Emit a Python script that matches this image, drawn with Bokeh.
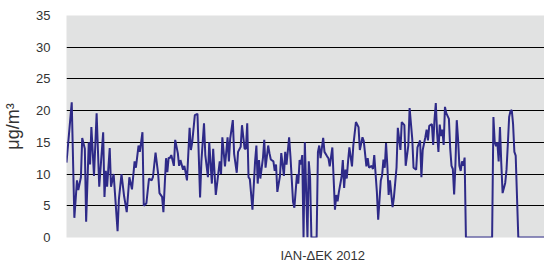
from bokeh.plotting import figure
from bokeh.models import Range1d, Title, FixedTicker
from bokeh.embed import file_html
from bokeh.resources import INLINE

# Day of year 2012 and concentration (μg/m³)
days = [1, 5, 7, 9, 10, 12, 13, 15, 16, 18, 19, 20, 22, 24, 26, 29, 30, 31, 32, 34, 35, 37, 38, 40, 41, 43, 45, 47, 49, 51,
        53, 54, 56, 57, 59, 60, 62, 64, 66, 67, 69, 71, 72, 74, 75, 77, 78, 79, 80, 81, 83, 84, 86, 87, 88, 90, 91, 92, 93, 95,
        96, 97, 99, 101, 103, 104, 106, 107, 109, 110, 112, 113, 115, 118, 119, 120, 122, 124, 125, 126, 128, 129, 131, 132, 134, 135, 137, 138, 139, 140,
        141, 143, 145, 146, 147, 148, 149, 151, 152, 153, 155, 156, 157, 159, 160, 161, 162, 164, 165, 167, 168, 169, 171, 172, 174, 175, 177, 178, 179, 180,
        181, 182, 183, 185, 186, 187, 188, 192, 193, 194, 195, 197, 198, 200, 201, 202, 204, 205, 206, 207, 208, 209, 211, 212, 213, 214, 215, 216, 217, 219,
        220, 222, 224, 225, 227, 228, 230, 231, 232, 234, 235, 236, 238, 239, 241, 242, 243, 244, 245, 246, 247, 248, 250, 251, 253, 254, 256, 257, 259, 260,
        262, 263, 265, 266, 268, 269, 271, 272, 273, 275, 276, 277, 278, 280, 281, 282, 283, 284, 285, 286, 287, 288, 289, 290, 291, 293, 294, 295, 296, 297,
        298, 299, 300, 301, 302, 303, 304, 305, 306, 326, 327, 328, 329, 330, 331, 332, 333, 334, 336, 337, 338, 339, 340, 341, 342, 343, 344, 346, 366]
pm = [11.8, 21.3, 3.1, 9.0, 7.5, 9.5, 15.7, 14.0, 2.5, 15.0, 11.5, 17.4, 9.7, 19.6, 8.0, 16.6, 6.4, 10.5, 8.0, 14.1, 8.0, 10.0, 7.0, 1.0, 6.0, 10.0, 6.5, 4.0, 9.5, 7.6,
      12.0, 11.0, 14.5, 13.5, 16.6, 5.0, 5.4, 9.3, 9.0, 9.5, 13.4, 10.0, 7.0, 6.4, 4.0, 12.5, 10.3, 12.6, 12.5, 13.0, 11.3, 15.4, 13.3, 11.3, 12.2, 10.7, 11.3, 10.2, 9.0, 17.3,
      13.8, 15.0, 19.3, 19.5, 6.3, 12.0, 18.0, 13.0, 9.5, 15.0, 8.5, 14.0, 6.7, 12.0, 10.0, 15.8, 11.2, 15.8, 12.0, 15.6, 18.5, 13.2, 10.2, 13.5, 14.3, 17.7, 14.0, 14.0, 18.0, 9.5,
      9.2, 4.4, 12.0, 14.5, 8.5, 12.2, 9.3, 12.5, 15.4, 11.0, 14.5, 13.3, 12.3, 12.0, 10.5, 11.5, 7.2, 9.7, 13.3, 9.7, 13.5, 11.5, 15.8, 12.8, 5.6, 4.7, 10.0, 8.5, 12.2, 11.5,
      13.0, 0, 15.0, 0, 12.0, 9.5, 0, 0, 13.5, 14.5, 12.5, 15.7, 13.5, 12.8, 12.5, 11.2, 14.2, 9.2, 4.4, 6.7, 5.7, 7.2, 9.5, 12.2, 7.8, 10.7, 9.3, 12.0, 14.2, 11.2,
      14.5, 18.2, 17.4, 13.8, 15.8, 15.2, 11.2, 12.5, 11.0, 11.3, 10.8, 13.0, 7.2, 2.8, 9.0, 9.8, 12.3, 11.0, 14.9, 11.3, 6.7, 9.0, 4.8, 6.3, 11.0, 17.3, 13.8, 18.2, 17.7, 11.3,
      14.5, 20.4, 15.6, 11.0, 10.7, 14.2, 15.3, 9.5, 13.8, 15.8, 17.0, 15.3, 17.6, 17.9, 14.6, 18.6, 21.2, 16.4, 13.5, 17.8, 16.0, 17.0, 14.6, 20.6, 19.6, 18.7, 14.0, 11.3, 10.8, 6.8,
      11.6, 18.5, 15.5, 11.3, 10.5, 12.0, 11.3, 12.6, 0, 0, 19.0, 15.0, 14.4, 15.0, 12.0, 17.4, 11.7, 7.0, 8.6, 10.7, 14.7, 19.0, 19.9, 20.1, 17.9, 13.5, 12.9, 0, 0]

y_ticks = [0, 5, 10, 15, 20, 25, 30, 35]
x_title = "ΙΑΝ-ΔΕΚ 2012"
y_title = "μg/m³"

p = figure(width=544, height=270, output_backend="svg", toolbar_location=None,
           x_range=Range1d(1, 366), y_range=Range1d(0, 35),
           min_border_left=66, min_border_right=0, min_border_top=15, min_border_bottom=2)
p.background_fill_color = "#e1e2e2"
p.border_fill_color = "white"
p.outline_line_color = None

p.line(days, pm, line_color="#2e2a88", line_width=2)

p.xgrid.grid_line_color = None
p.ygrid.grid_line_color = "black"
p.ygrid.grid_line_width = 1
p.ygrid.ticker = FixedTicker(ticks=y_ticks)

p.yaxis.ticker = FixedTicker(ticks=y_ticks)
p.yaxis.axis_line_color = None
p.yaxis.major_tick_line_color = None
p.yaxis.minor_tick_line_color = None
p.yaxis.major_label_standoff = 10
p.yaxis.major_label_text_font = "Liberation Sans"
p.yaxis.major_label_text_font_size = "13px"
p.yaxis.major_label_text_color = "#333333"
p.yaxis.axis_label = y_title
p.yaxis.axis_label_text_font = "Liberation Sans"
p.yaxis.axis_label_text_font_style = "normal"
p.yaxis.axis_label_text_font_size = "18px"
p.yaxis.axis_label_text_color = "#333333"
p.yaxis.axis_label_standoff = 10

p.xaxis.visible = False

t = Title(text=x_title, align="left", offset=214, text_font="Liberation Sans",
          text_font_size="13px", text_font_style="normal", text_color="#333333",
          standoff=16)
p.add_layout(t, "below")

open("out.html", "w").write(file_html(p, INLINE))
